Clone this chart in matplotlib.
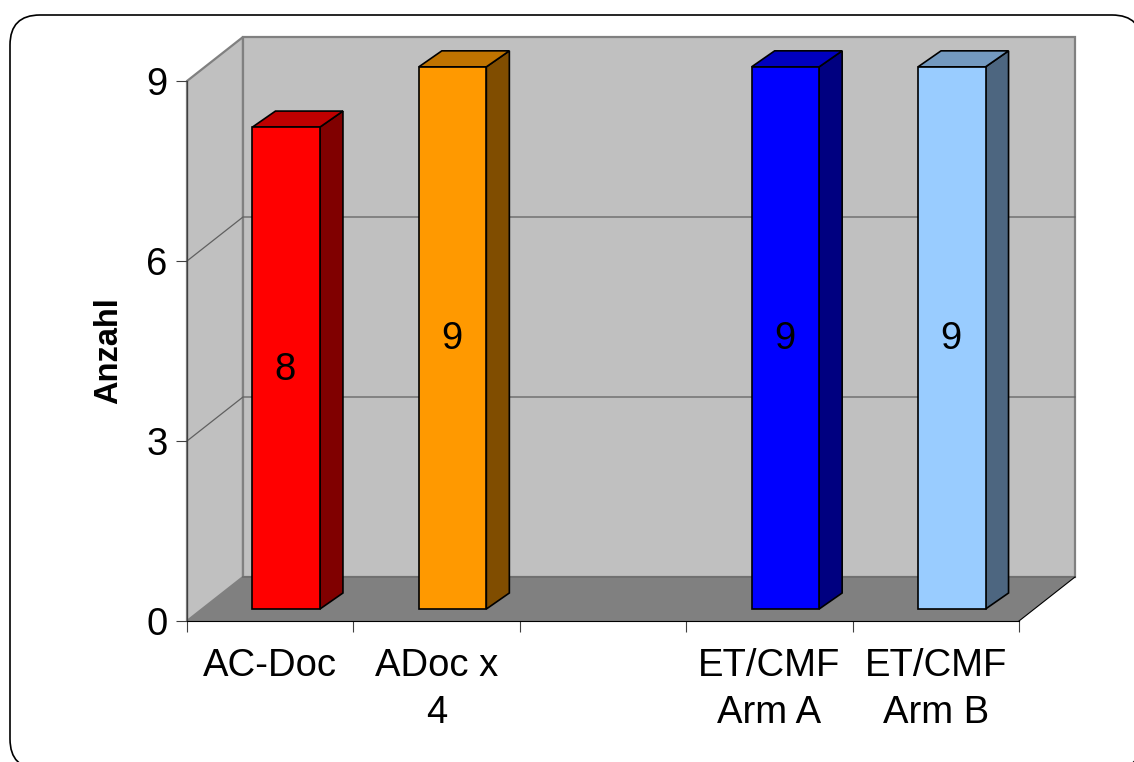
import matplotlib
matplotlib.use("Agg")
import matplotlib.pyplot as plt
from matplotlib.patches import Polygon, FancyBboxPatch

plt.rcParams['font.family'] = ['Liberation Sans', 'DejaVu Sans']

# data
positions = [0.5, 1.5, 3.5, 4.5]
values = [8, 9, 9, 9]
value_labels = ['8', '9', '9', '9']
tick_positions = [0.5, 1.5, 3.5, 4.5]
tick_labels = ['AC-Doc', 'ADoc x\n4', 'ET/CMF\nArm A', 'ET/CMF\nArm B']
y_ticks = [0, 3, 6, 9]
front_colors = ['#ff0000', '#ff9900', '#0000ff', '#99ccff']
top_colors = ['#bf0000', '#bf7300', '#0000bf', '#7399bf']
side_colors = ['#800000', '#804d00', '#000080', '#4d6680']

W, H = 1134, 762
fig = plt.figure(figsize=(W / 100, H / 100), dpi=100)

# rounded frame round the slide, runs off the right and bottom
bg = fig.add_axes([0, 0, 1, 1])
bg.set_xlim(0, W)
bg.set_ylim(H, 0)
bg.axis('off')
bg.add_patch(FancyBboxPatch((10, 15), 1132, 754, boxstyle="round,pad=0,rounding_size=30",
                            fc='white', ec='black', lw=1.2))

# axes sits on the front plane of the fake 3d box
ax = fig.add_axes([187 / W, 1 - 621 / H, 832 / W, 540 / H])
ax.patch.set_alpha(0)
ax.set_xlim(0, 5)
ax.set_ylim(0, 9)
for s in ['top', 'right']:
    ax.spines[s].set_visible(False)
ax.spines['left'].set_color('#404040')
ax.spines['left'].set_linewidth(0.8)
ax.spines['bottom'].set_color('black')
ax.spines['bottom'].set_linewidth(0.8)

# depth of the box and of the bars, in data units
dx = 56 / 166.4
dy = 44 / 60.0
bar_dx = 23 / 166.4
bar_dy = 16 / 60.0
off_x = 16 / 166.4
off_y = 0.2
bar_w = 67.5 / 166.4
bar_scale = 1.004


def poly(pts, fc, ec, lw=1.0, z=2):
    ax.add_patch(Polygon(pts, closed=True, fc=fc, ec=ec, lw=lw, zorder=z, clip_on=False,
                         joinstyle='miter'))


# walls and floor
poly([(0, 0), (dx, dy), (5 + dx, dy), (5, 0)], '#808080', 'none', z=1)
poly([(0, 0), (dx, dy), (dx, 9 + dy), (0, 9)], '#c0c0c0', '#808080', 1.6, z=1)
poly([(dx, dy), (5 + dx, dy), (5 + dx, 9 + dy), (dx, 9 + dy)], '#c0c0c0', '#808080', 1.6, z=1)
ax.plot([dx, 5 + dx], [dy, dy], color='#707070', lw=1.4, zorder=1.5, clip_on=False)
ax.plot([5, 5 + dx], [0, dy], color='black', lw=0.8, zorder=1.5, clip_on=False)
ax.plot([0, 0], [0, 9], color='#404040', lw=0.8, zorder=1.5, clip_on=False)
for t in y_ticks[1:-1]:
    ax.plot([0, dx, 5 + dx], [t, t + dy, t + dy], color='#606060', lw=0.9, zorder=1.5, clip_on=False)

# bars
for i in range(len(values)):
    l = positions[i] + off_x - bar_w / 2
    r = l + bar_w
    b = off_y
    t = off_y + values[i] * bar_scale
    poly([(r, b), (r + bar_dx, b + bar_dy), (r + bar_dx, t + bar_dy), (r, t)], side_colors[i], 'black', 1.2, 3)
    poly([(l, t), (l + bar_dx, t + bar_dy), (r + bar_dx, t + bar_dy), (r, t)], top_colors[i], 'black', 1.2, 3)
    poly([(l, b), (r, b), (r, t), (l, t)], front_colors[i], 'black', 1.2, 4)
    ax.text((l + r) / 2 - 0.006, (b + t) / 2 - 0.025, value_labels[i], ha='center', va='center',
            fontsize=27.5, color='black', zorder=5)

# ticks
ax.set_xticks([0, 1, 2, 3, 4, 5])
ax.set_xticklabels([])
ax.set_xticks(tick_positions, minor=True)
ax.set_xticklabels(tick_labels, minor=True, fontsize=27.5, linespacing=1.4)
ax.tick_params(axis='x', which='major', length=8, width=0.8, color='#404040')
ax.tick_params(axis='x', which='minor', length=0, pad=19.5)
ax.set_yticks(y_ticks)
ax.tick_params(axis='y', length=8, width=0.8, color='#404040', labelsize=27.5, pad=6)

fig.text(109 / W, 1 - 351 / H, 'Anzahl', rotation=90, ha='center', va='center',
         fontsize=23.5, fontweight='bold')

fig.savefig('out.png', dpi=100)
